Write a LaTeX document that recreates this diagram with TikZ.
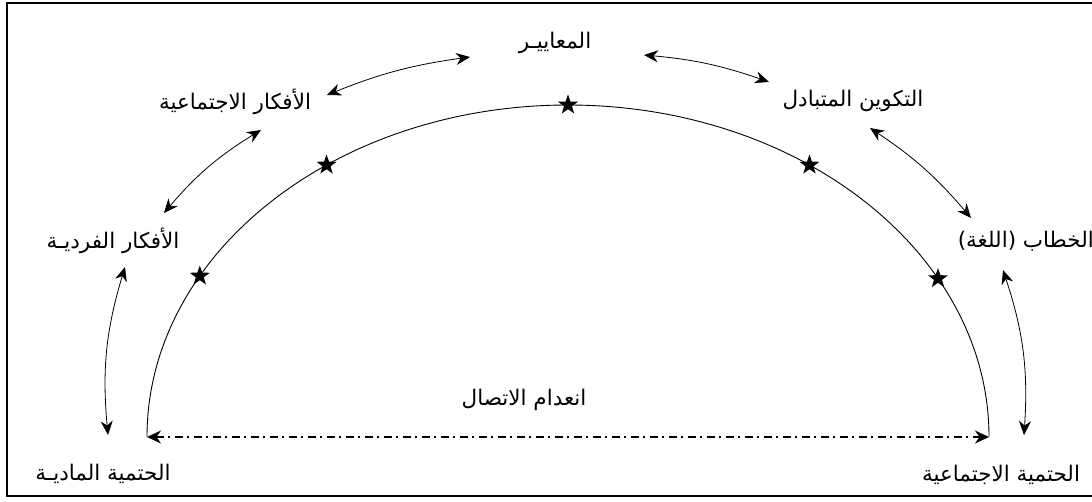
\documentclass[tikz,border=0pt]{standalone}
\usepackage{fontspec}
\TeXXeTstate=1
\newfontfamily\arabicfont[Script=Arabic]{DejaVu Sans}
\usetikzlibrary{arrows.meta,shapes.geometric}
\begin{document}
\begin{tikzpicture}[x=1pt,y=1pt,
  lbl/.style={font=\arabicfont\fontsize{21.5}{23}\selectfont, inner sep=0pt},
  conn/.style={{Stealth[length=14pt,width=12pt,inset=4.5pt]}-{Stealth[length=14pt,width=12pt,inset=4.5pt]}, line width=0.8pt},
  gap/.style={{Stealth[length=14pt,width=13pt,inset=4.5pt]}-{Stealth[length=14pt,width=13pt,inset=4.5pt]}, line width=1.8pt, dash pattern=on 8pt off 4.5pt on 2pt off 4.5pt},
  starmark/.style={star, star points=5, star point ratio=2.5, fill=black, draw=none, minimum size=21pt, inner sep=0pt}]
\useasboundingbox (0,0) rectangle (1092,501);
\fill[white] (0,0) rectangle (1092,501);
\draw[line width=2.4pt] (1100,498) -- (7,498) -- (7,5) -- (1100,5);

% labels
\node[lbl] (maa) at (555,458) {\beginR المعاييـر\endR};
\node[lbl] (soc) at (235,399) {\beginR الأفكار الاجتماعية\endR};
\node[lbl] (tak) at (853,400) {\beginR التكوين المتبادل\endR};
\node[lbl] (fard) at (113,260) {\beginR الأفكار الفرديـة\endR};
\node[lbl, anchor=east] (khi) at (1094,260) {\beginR الخطاب (اللغة)\endR};
\node[lbl] (mad) at (103,27) {\beginR الحتمية الماديـة\endR};
\node[lbl] (ijt) at (1001,26) {\beginR الحتمية الاجتماعية\endR};
\node[lbl] (inq) at (524,101) {\beginR انعدام الاتصال\endR};

% arc
\coordinate (c) at (568,64);
\coordinate (footL) at (147,64);
\coordinate (footR) at (989,64);
\draw[line width=0.9pt] (footL) arc[start angle=180, end angle=0, x radius=421, y radius=332];
\node[starmark] (s1) at ([shift={(151:421 and 332)}]c) {};
\node[starmark] (s2) at ([shift={(125:421 and 332)}]c) {};
\node[starmark] (s3) at ([shift={(90:421 and 332)}]c) {};
\node[starmark] (s4) at ([shift={(55:421 and 332)}]c) {};
\node[starmark] (s5) at ([shift={(28.5:421 and 332)}]c) {};

% disconnection line
\draw[gap] (footL) -- (footR);

% connector ends
\coordinate (soc-maa) at (327,406);
\coordinate (maa-soc) at (470,444);
\coordinate (maa-tak) at (644,446);
\coordinate (tak-maa) at (769,419);
\coordinate (soc-fard) at (261,371);
\coordinate (fard-soc) at (164,288);
\coordinate (tak-khi) at (870,373);
\coordinate (khi-tak) at (971,283);
\coordinate (fard-mad) at (125,234);
\coordinate (mad-fard) at (108,66);
\coordinate (khi-ijt) at (1003,231);
\coordinate (ijt-khi) at (1024,66);

\draw[conn] (soc-maa) to[bend left=7] (maa-soc);
\draw[conn] (maa-tak) to[bend left=7] (tak-maa);
\draw[conn] (soc-fard) to[bend right=9] (fard-soc);
\draw[conn] (tak-khi) to[bend left=8] (khi-tak);
\draw[conn] (fard-mad) to[bend right=11] (mad-fard);
\draw[conn] (khi-ijt) to[bend left=11] (ijt-khi);
\end{tikzpicture}
\end{document}
